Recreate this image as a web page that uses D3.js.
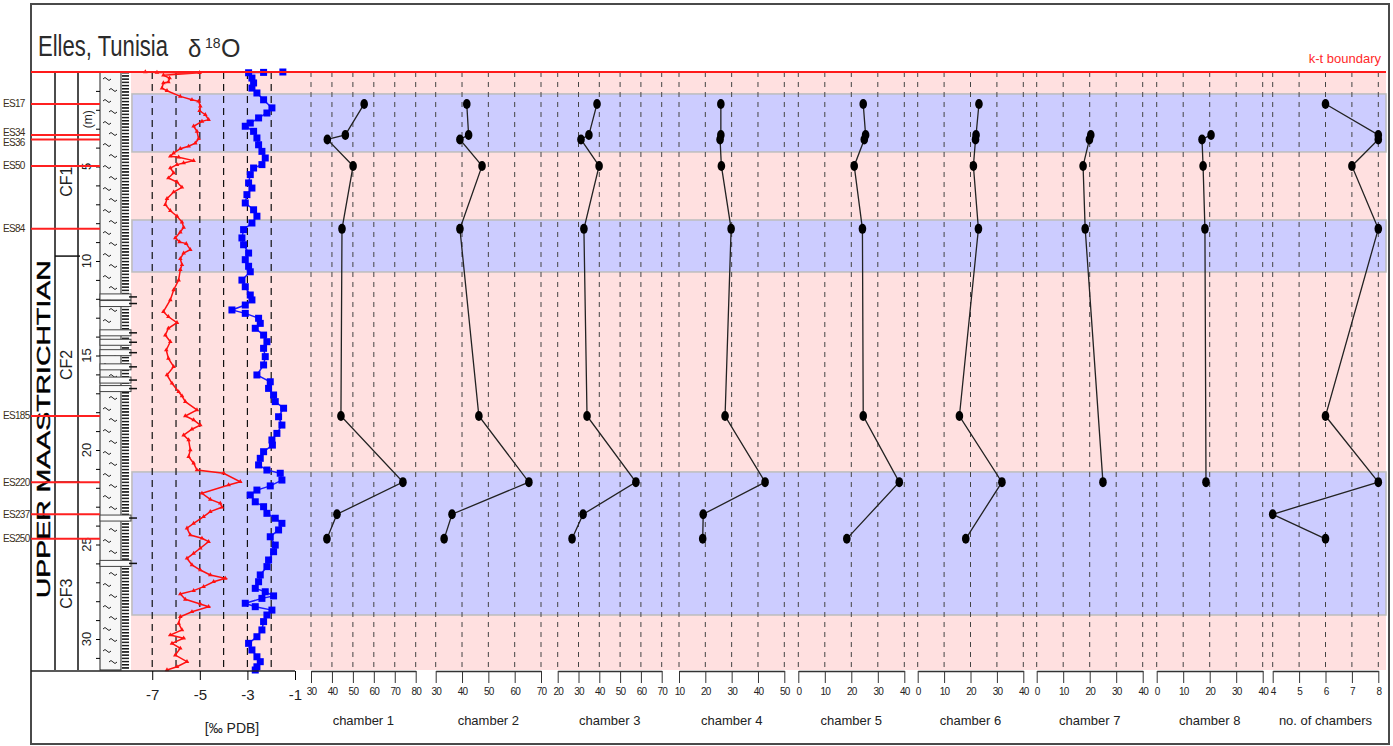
<!DOCTYPE html>
<html>
<head>
<meta charset="utf-8">
<script src="https://cdn.jsdelivr.net/npm/d3@7"></script>
<style>
body { margin: 0; background: #fff; }
text { font-family: "Liberation Sans", Arial, sans-serif; }
</style>
</head>
<body>
<svg id="chart" width="1393" height="746"></svg>
<script>
// samples and their depth (m)
const samples = ["ES17", "ES34", "ES36", "ES50", "ES84", "ES185", "ES220", "ES237", "ES250"]
const sampleDepth = [1.69, 3.33, 3.57, 4.97, 8.3, 18.2, 21.7, 23.4, 24.7]

// chamber panels
const chamberNames = ["chamber 1", "chamber 2", "chamber 3", "chamber 4", "chamber 5", "chamber 6", "chamber 7", "chamber 8", "no. of chambers"]
const chamberTicks = [
    [30, 40, 50, 60, 70, 80],
    [30, 40, 50, 60, 70],
    [20, 30, 40, 50, 60, 70],
    [10, 20, 30, 40, 50],
    [0, 10, 20, 30, 40],
    [0, 10, 20, 30, 40],
    [0, 10, 20, 30, 40],
    [0, 10, 20, 30, 40],
    [4, 5, 6, 7, 8]
]
const chamber1 = [55.4, 46.4, 37.8, 50.1, 44.8, 44.3, 73.9, 42.4, 37.6]
const chamber2 = [41.8, 42.5, 39.2, 47.6, 39.2, 46.4, 65.4, 36.2, 33.2]
const chamber3 = [38.9, 35.0, 31.2, 39.9, 32.6, 34.1, 57.6, 32.2, 26.9]
const chamber4 = [25.9, 25.9, 25.6, 26.1, 29.8, 27.5, 42.7, 19.2, 19.0]
const chamber5 = [24.5, 25.4, 24.9, 21.1, 24.2, 24.5, 38.1, null, 18.3]
const chamber6 = [23.2, 22.1, 21.9, 21.1, 23.0, 15.8, 31.9, null, 18.2]
const chamber7 = [null, 20.4, 19.9, 17.5, 18.3, null, 25.0, null, null]
const chamber8 = [null, 20.5, 17.1, 17.5, 18.2, null, 18.6, null, null]
const chamberCount = [6, 8, 8, 7, 8, 6, 8, 4, 6]

// isotope curves (depth m, per mil PDB)
const redDepth = [0, 0.02, 0.04, 0.17, 0.32, 0.53, 0.58, 0.85, 0.99, 1.29, 1.47, 1.55, 1.81, 2.05, 2.26, 2.52, 2.61, 2.87, 3.14, 3.53, 3.76, 3.93, 4.06, 4.29, 4.46, 4.51, 4.69, 4.81, 4.90, 5.08, 5.34, 5.61, 5.82, 6.10, 6.35, 6.70, 7.02, 7.34, 7.63, 7.94, 8.22, 8.47, 8.78, 8.99, 9.08, 9.40, 9.58, 9.88, 10.20, 10.46,
    11.01, 11.53, 12.06, 12.68, 12.95, 13.26, 13.56, 13.92, 14.27, 14.71, 15.15, 15.59, 16.03, 16.47, 16.92, 17.14, 17.44, 17.88, 18.20, 18.41, 18.68, 18.90, 19.21, 19.47, 20.0, 20.35, 20.70, 21.06, 21.23,
    21.68, 21.85, 22.29, 22.61, 22.82, 23.03, 23.26, 23.53, 23.88, 24.14, 24.50, 24.67, 24.85, 25.20, 25.47, 25.73, 26.08, 26.35, 26.61, 26.79, 26.97, 27.23, 27.44, 27.62, 27.90, 28.15, 28.29, 28.56, 28.82, 29.17, 29.52, 29.79, 29.96, 30.23, 30.49, 30.85, 31.20, 31.47, 31.64]
const redValue = [-7.29, -6.80, -5.01, -6.53, -6.27, -6.32, -6.53, -6.59, -6.38, -5.82, -5.33, -5.05, -4.98, -5.01, -4.77, -4.63, -4.91, -5.26, -5.12, -5.05, -5.19, -5.47, -5.82, -6.10, -6.24, -5.89, -5.26, -5.68, -5.96, -6.24, -6.10, -6.32, -5.96, -5.75, -6.10, -6.38, -6.45, -6.24, -5.96, -5.75, -5.68, -5.82, -6.03, -5.85, -5.57, -5.40, -5.68, -5.82, -5.75, -5.82,
    -5.89, -6.10, -6.24, -6.53, -6.32, -5.96, -6.32, -6.45, -6.24, -6.41, -6.32, -6.10, -6.38, -6.17, -5.89, -5.75, -5.61, -5.12, -5.61, -5.26, -4.98, -5.33, -5.68, -5.47, -5.40, -5.47, -5.26, -5.12, -4.00,
    -3.30, -3.79, -4.91, -4.56, -4.14, -4.07, -4.56, -4.84, -5.26, -5.54, -5.40, -4.91, -4.63, -4.98, -5.26, -5.54, -5.33, -4.98, -4.56, -3.93, -4.42, -4.84, -5.26, -5.82, -5.61, -4.98, -4.63, -5.33, -5.82, -5.89, -5.75, -6.24, -5.68, -6.17, -5.82, -6.03, -5.54, -5.96, -6.38]

const blueDepth = [0, 0.02, 0.04, 0.32, 0.58, 0.85, 1.11, 1.47, 1.90, 2.17, 2.43, 2.70, 2.87, 3.14, 3.49, 3.85, 4.20, 4.55, 4.90, 5.08, 5.43, 5.87, 6.14, 6.49, 6.93, 7.29, 7.63, 7.99, 8.34, 8.78, 9.14, 9.58, 9.93, 10.28, 10.57,
    11.01, 11.36, 11.80, 12.06, 12.33, 12.59, 12.77, 13.03, 13.30, 13.56, 13.92, 14.27, 14.62, 15.06, 15.50, 16.03, 16.39, 16.74, 17.09, 17.44, 17.79, 18.24, 18.68, 19.12, 19.47, 19.74, 20.09, 20.44, 20.79, 21.06, 21.23,
    21.59, 21.90, 22.12, 22.38, 22.74, 23.0, 23.35, 23.61, 23.88, 24.23, 24.59, 25.03, 25.38, 25.82, 26.17, 26.61, 26.97, 27.32, 27.50, 27.72, 27.85, 28.11, 28.29, 28.47, 28.73, 29.08, 29.52, 29.88, 30.23, 30.58, 30.94, 31.20, 31.47, 31.64]
const blueValue = [-1.51, -2.32, -2.95, -2.81, -2.74, -2.81, -2.60, -2.32, -1.97, -2.18, -2.53, -2.88, -3.09, -2.74, -2.60, -2.53, -2.39, -2.25, -2.39, -2.74, -2.88, -2.95, -2.81, -3.02, -3.09, -2.74, -2.60, -2.81, -3.16, -3.23, -3.16, -2.95, -3.09, -2.95, -2.88,
    -3.23, -3.09, -2.88, -2.81, -3.09, -3.65, -3.09, -2.53, -2.46, -2.67, -2.32, -2.18, -2.32, -2.25, -2.32, -2.60, -2.04, -2.11, -1.90, -1.83, -1.48, -1.69, -1.55, -1.76, -1.97, -1.95, -2.32, -2.46, -2.53, -2.18, -1.62,
    -1.55, -2.04, -2.60, -2.88, -2.67, -2.32, -2.18, -1.83, -1.55, -1.69, -2.04, -1.83, -1.90, -2.11, -2.18, -2.46, -2.53, -2.67, -2.25, -1.90, -2.39, -3.09, -2.67, -1.97, -2.18, -2.32, -2.39, -2.60, -2.95, -2.81, -2.60, -2.46, -2.60, -2.67]

const isoTicks = [-7, -5, -3, -1]
const isoGrid = [-7, -6, -5, -4, -3, -2]

// shaded intervals and zones (m)
const blueBands = [[1.16, 4.23], [7.83, 10.58], [21.16, 28.73]]
const zoneNames = ["CF1", "CF2", "CF3"]
const zoneBoundary = [9.74, 21.7]
const zoneLabelDepth = [5.8, 15.5, 27.6]
const limestoneBeds = [11.9, 12.25, 13.8, 14.3, 14.85, 15.6, 16.3, 16.75, 23.6, 26.0]
const depthTicks = [5, 10, 15, 20, 25, 30]
const maxDepth = 31.64

// ---- layout ----
const svg = d3.select("#chart")
const y = d3.scaleLinear().domain([0, maxDepth]).range([72, 670])
const xIso = d3.scaleLinear().domain([-7.85, -1]).range([132, 295])
const panelRange = [[311, 415.7], [435.7, 541], [557.7, 661.7], [679, 784.3], [798.3, 904.3], [917.7, 1023.3], [1036.7, 1142.7], [1156.7, 1262.7], [1272.7, 1378.3]]
const chamberData = [chamber1, chamber2, chamber3, chamber4, chamber5, chamber6, chamber7, chamber8, chamberCount]
const axisY = 671

// patterns for lithology
const defs = svg.append("defs")
const marl = defs.append("pattern").attr("id", "marl")
    .attr("patternUnits", "userSpaceOnUse").attr("width", 20).attr("height", 22)
    .attr("x", 100).attr("y", 72)
marl.append("rect").attr("width", 20).attr("height", 22).attr("fill", "#f6f6f6")
marl.append("path").attr("d", "M3,7 q2,-3 4,0 t4,0").attr("fill", "none").attr("stroke", "#222").attr("stroke-width", 1)
marl.append("path").attr("d", "M9,18 q2,-3 4,0 t4,0").attr("fill", "none").attr("stroke", "#222").attr("stroke-width", 1)
const bars = defs.append("pattern").attr("id", "bars")
    .attr("patternUnits", "userSpaceOnUse").attr("width", 10).attr("height", 3.2)
    .attr("x", 121).attr("y", 72)
bars.append("rect").attr("width", 10).attr("height", 3.2).attr("fill", "#fff")
bars.append("rect").attr("x", 1).attr("width", 7).attr("height", 1.5).attr("fill", "#111")

// background shading
svg.append("rect")
    .attr("x", 131).attr("y", y(0)).attr("width", 1255).attr("height", y(maxDepth) - y(0))
    .attr("fill", "#ffe0e0")
svg.selectAll(".band").data(blueBands).enter().append("rect")
    .attr("class", "band")
    .attr("x", 132).attr("width", 1254)
    .attr("y", function(d){ return y(d[0]) })
    .attr("height", function(d){ return y(d[1]) - y(d[0]) })
    .attr("fill", "#ccccff")
    .attr("stroke", "#bdbdbd").attr("stroke-width", 1.5)

// frame
svg.append("rect").attr("x", 31).attr("y", 4).attr("width", 1358).attr("height", 740)
    .attr("fill", "none").attr("stroke", "#4a4a4a").attr("stroke-width", 2)

// title
svg.append("text").attr("x", 38).attr("y", 56).attr("fill", "#2b2b2b")
    .attr("font-size", 29).attr("textLength", 130).attr("lengthAdjust", "spacingAndGlyphs")
    .text("Elles, Tunisia")
svg.append("text").attr("x", 188).attr("y", 57).attr("fill", "#2b2b2b").attr("font-size", 24).text("δ")
svg.append("text").attr("x", 205).attr("y", 48).attr("fill", "#2b2b2b").attr("font-size", 14).text("18")
svg.append("text").attr("x", 221).attr("y", 57).attr("fill", "#2b2b2b").attr("font-size", 25).text("O")

// left columns
svg.selectAll(".col").data([55, 78]).enter().append("line")
    .attr("x1", function(d){ return d }).attr("x2", function(d){ return d })
    .attr("y1", y(0)).attr("y2", y(maxDepth))
    .attr("stroke", "#111").attr("stroke-width", 1.5)
svg.selectAll(".zb").data(zoneBoundary).enter().append("line")
    .attr("x1", 55).attr("x2", 80)
    .attr("y1", function(d){ return y(d) }).attr("y2", function(d){ return y(d) })
    .attr("stroke", "#111").attr("stroke-width", 1.5)
svg.selectAll(".zl").data(zoneNames).enter().append("text")
    .attr("transform", function(d, i){ return "translate(72," + y(zoneLabelDepth[i]) + ") rotate(-90)" })
    .attr("text-anchor", "middle").attr("font-size", 16).attr("fill", "#222")
    .text(function(d){ return d })
svg.append("text")
    .attr("transform", "translate(50," + y(18.9) + ") rotate(-90)")
    .attr("text-anchor", "middle").attr("font-size", 19).attr("fill", "#000")
    .attr("stroke", "#000").attr("stroke-width", 0.4)
    .attr("textLength", 338).attr("lengthAdjust", "spacingAndGlyphs")
    .text("UPPER MAASTRICHTIAN")

// lithology column
svg.append("rect").attr("x", 121).attr("y", y(0)).attr("width", 9).attr("height", y(maxDepth) - y(0))
    .attr("fill", "url(#bars)")
svg.append("rect").attr("x", 100).attr("y", y(0)).attr("width", 21).attr("height", y(maxDepth) - y(0))
    .attr("fill", "url(#marl)").attr("stroke", "#222").attr("stroke-width", 1)
svg.selectAll(".bed").data(limestoneBeds).enter().append("rect")
    .attr("x", 100).attr("width", 31)
    .attr("y", function(d){ return y(d) - 3 }).attr("height", 6)
    .attr("fill", "#fafafa").attr("stroke", "#444").attr("stroke-width", 1)
svg.selectAll(".bedtick").data(limestoneBeds).enter().append("line")
    .attr("x1", 129).attr("x2", 137)
    .attr("y1", function(d){ return y(d) }).attr("y2", function(d){ return y(d) })
    .attr("stroke", "#111").attr("stroke-width", 1.5)

// depth axis
const depthAxis = d3.axisLeft(y).tickValues(d3.range(0, 32)).tickSize(4).tickFormat("")
svg.append("g").attr("transform", "translate(100,0)").call(depthAxis)
    .call(function(g){ g.select(".domain").remove() })
svg.selectAll(".dl").data(depthTicks).enter().append("text")
    .attr("transform", function(d){ return "translate(91," + y(d) + ") rotate(-90)" })
    .attr("text-anchor", "middle").attr("font-size", 13).attr("fill", "#222")
    .text(function(d){ return d })
svg.append("text").attr("transform", "translate(92," + y(2.5) + ") rotate(-90)")
    .attr("text-anchor", "middle").attr("font-size", 12).attr("fill", "#222").text("(m)")

// isotope panel gridlines
svg.selectAll(".ig").data(isoGrid).enter().append("line")
    .attr("x1", function(d){ return xIso(d) }).attr("x2", function(d){ return xIso(d) })
    .attr("y1", y(0)).attr("y2", y(maxDepth))
    .attr("stroke", "#111").attr("stroke-width", 1.2).attr("stroke-dasharray", "7,5")

// chamber panels
chamberData.forEach(function(vals, i){
    const ticks = chamberTicks[i]
    const sx = d3.scaleLinear().domain([ticks[0], ticks[ticks.length - 1]]).range(panelRange[i])
    svg.append("g").selectAll("line").data(ticks).enter().append("line")
        .attr("x1", function(d){ return sx(d) }).attr("x2", function(d){ return sx(d) })
        .attr("y1", y(0)).attr("y2", y(maxDepth))
        .attr("stroke", "#444").attr("stroke-width", 1).attr("stroke-dasharray", "5,5")

    const pts = samples.map(function(s, j){ return {d: sampleDepth[j], v: vals[j]} })
        .filter(function(p){ return p.v !== null })
    svg.append("path").datum(pts)
        .attr("d", d3.line().x(function(p){ return sx(p.v) }).y(function(p){ return y(p.d) }))
        .attr("fill", "none").attr("stroke", "#222").attr("stroke-width", 1.3)
    svg.append("g").selectAll("ellipse").data(pts).enter().append("ellipse")
        .attr("cx", function(p){ return sx(p.v) }).attr("cy", function(p){ return y(p.d) })
        .attr("rx", 3.8).attr("ry", 5).attr("fill", "#000")

    const ax = svg.append("g").attr("transform", "translate(0," + axisY + ")")
        .call(d3.axisBottom(sx).tickValues(ticks).tickSize(12).tickSizeOuter(0)
            .tickFormat(function(d){ return String(d) }))
    ax.select(".domain").attr("stroke", "#333").attr("stroke-width", 1.5)
    ax.selectAll(".tick line").attr("stroke", "#333")
    ax.selectAll("text").attr("font-size", 10).attr("fill", "#222").attr("dy", "0.9em")
        .style("font-stretch", "condensed").attr("letter-spacing", -0.8)
    svg.append("text").attr("x", (panelRange[i][0] + panelRange[i][1]) / 2).attr("y", 725)
        .attr("text-anchor", "middle").attr("font-size", 13).attr("fill", "#222")
        .text(chamberNames[i])
})

// isotope curves
const redPts = redDepth.map(function(d, i){ return {d: d, v: redValue[i]} })
const bluePts = blueDepth.map(function(d, i){ return {d: d, v: blueValue[i]} })
const isoLine = d3.line().x(function(p){ return xIso(p.v) }).y(function(p){ return y(p.d) })
svg.append("path").datum(redPts).attr("d", isoLine)
    .attr("fill", "none").attr("stroke", "#ff1010").attr("stroke-width", 1.5)
svg.append("g").selectAll("path").data(redPts).enter().append("path")
    .attr("d", d3.symbol(d3.symbolTriangle, 9))
    .attr("transform", function(p){ return "translate(" + xIso(p.v) + "," + y(p.d) + ")" })
    .attr("fill", "#ff1010")
svg.append("path").datum(bluePts).attr("d", isoLine)
    .attr("fill", "none").attr("stroke", "#1a1aff").attr("stroke-width", 1.5)
svg.append("g").selectAll("rect").data(bluePts).enter().append("rect")
    .attr("x", function(p){ return xIso(p.v) - 3.5 }).attr("y", function(p){ return y(p.d) - 3.5 })
    .attr("width", 7).attr("height", 7).attr("fill", "#0000ff")

// isotope axis
svg.append("line").attr("x1", 31).attr("x2", xIso(-1)).attr("y1", axisY).attr("y2", axisY)
    .attr("stroke", "#222").attr("stroke-width", 1.5)
const isoAx = svg.append("g").attr("transform", "translate(0," + axisY + ")")
    .call(d3.axisBottom(xIso).tickValues(isoTicks).tickSize(9).tickFormat(function(d){ return String(d) }))
isoAx.select(".domain").remove()
isoAx.selectAll("text").attr("font-size", 15).attr("fill", "#222").attr("dy", "1.1em")
svg.append("text").attr("x", 232).attr("y", 733).attr("text-anchor", "middle")
    .attr("font-size", 14).attr("fill", "#222").text("[‰  PDB]")

// sample levels
svg.selectAll(".sl").data(sampleDepth).enter().append("line")
    .attr("x1", 31).attr("x2", 100)
    .attr("y1", function(d){ return y(d) }).attr("y2", function(d){ return y(d) })
    .attr("stroke", "#ff2020").attr("stroke-width", 2)
const nudge = [0, -2, 3, 0, 0, 0, 0, 0, 0]
svg.selectAll(".sn").data(samples).enter().append("text")
    .attr("x", 3).attr("y", function(d, i){ return y(sampleDepth[i]) + nudge[i] + 3.5 })
    .attr("font-size", 10).attr("fill", "#3a2f1a").attr("letter-spacing", -0.7)
    .style("font-stretch", "condensed")
    .text(function(d){ return d })

// k-t boundary
svg.append("line").attr("x1", 31).attr("x2", 1386).attr("y1", y(0)).attr("y2", y(0))
    .attr("stroke", "#ff1a1a").attr("stroke-width", 2)
svg.append("text").attr("x", 1381).attr("y", 63).attr("text-anchor", "end")
    .attr("font-size", 13).attr("fill", "#ff2a2a").text("k-t boundary")
</script>
</body>
</html>
